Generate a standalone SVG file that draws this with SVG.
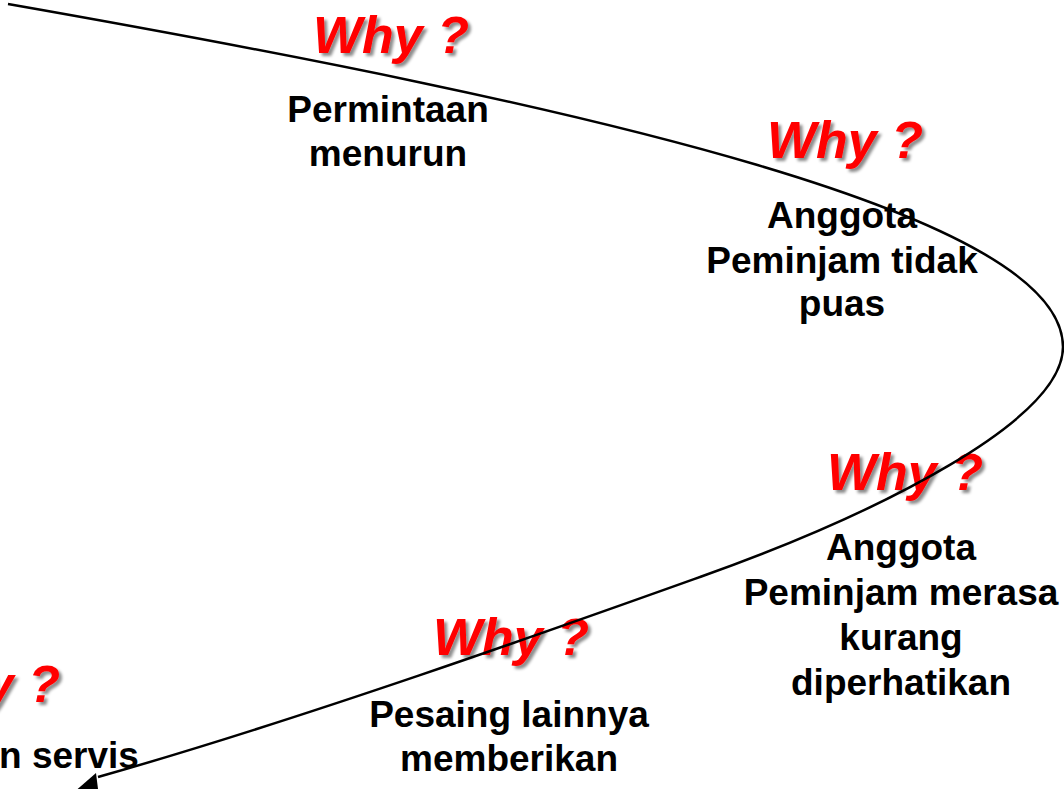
<svg xmlns="http://www.w3.org/2000/svg" width="1064" height="789" viewBox="0 0 1064 789">
  <defs>
    <filter id="shadow" x="-10%" y="-20%" width="130%" height="150%">
      <feDropShadow dx="3" dy="3" stdDeviation="1.4" flood-color="#000" flood-opacity="0.45"/>
    </filter>
    <style>
      .why { font-family: "Liberation Sans", Arial, sans-serif; font-weight: bold; font-style: italic; font-size: 52px; fill: #ff0000; filter: url(#shadow); }
      .lbl { font-family: "Liberation Sans", Arial, sans-serif; font-weight: bold; font-size: 37px; fill: #000; text-anchor: middle; }
      .flow { fill: none; stroke: #000; stroke-width: 2.5; }
      .head { fill: #000; }
    </style>
  </defs>
  <rect width="1064" height="789" fill="#fff"/>

  <!-- step 1 -->
  <g id="step1">
    <text class="why" x="391" y="53" text-anchor="middle">Why ?</text>
    <text class="lbl" x="388" y="122">Permintaan</text>
    <text class="lbl" x="388" y="166">menurun</text>
  </g>

  <!-- step 2 -->
  <g id="step2">
    <text class="why" x="845" y="158" text-anchor="middle">Why ?</text>
    <text class="lbl" x="842" y="228">Anggota</text>
    <text class="lbl" x="842" y="273">Peminjam tidak</text>
    <text class="lbl" x="842" y="316">puas</text>
  </g>

  <!-- step 3 -->
  <g id="step3">
    <text class="why" x="905" y="490" text-anchor="middle">Why ?</text>
    <text class="lbl" x="901" y="560">Anggota</text>
    <text class="lbl" x="901" y="605">Peminjam merasa</text>
    <text class="lbl" x="901" y="650">kurang</text>
    <text class="lbl" x="901" y="695">diperhatikan</text>
  </g>

  <!-- step 4 -->
  <g id="step4">
    <text class="why" x="511" y="655" text-anchor="middle">Why ?</text>
    <text class="lbl" x="509" y="727">Pesaing lainnya</text>
    <text class="lbl" x="509" y="771">memberikan</text>
  </g>

  <!-- step 5 (runs off the left edge) -->
  <g id="step5">
    <text class="why" x="60" y="702" text-anchor="end">Why ?</text>
    <text class="lbl" x="-1" y="768" text-anchor="start" style="text-anchor:start">n servis</text>
  </g>

  <!-- the spiral flow line -->
  <g id="connectors">
    <path class="flow" d="M8,4 C600,108 1063,215 1063,347 C1063,420 880,513 700,577 C560,627 300,720 98,777"/>
    <polygon class="head" points="96,773 100,805 65,800"/>
  </g>
</svg>
